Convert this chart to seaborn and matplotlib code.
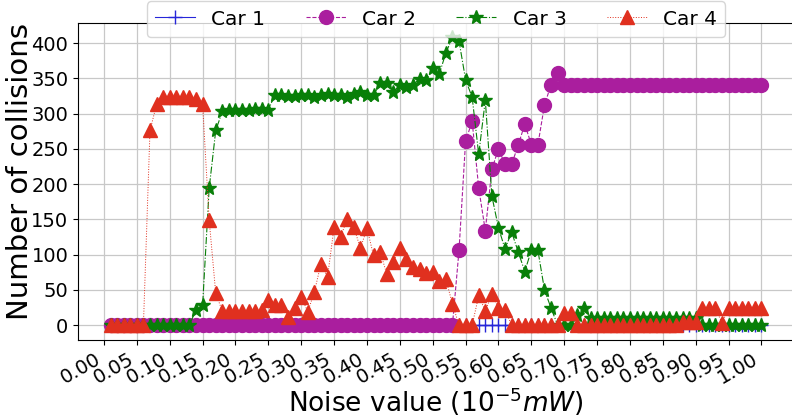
import matplotlib
matplotlib.use("Agg")
import matplotlib.pyplot as plt
import seaborn as sns
import pandas as pd

noise = [0.01, 0.02, 0.03, 0.04, 0.05, 0.06, 0.07, 0.08, 0.09, 0.10,
         0.11, 0.12, 0.13, 0.14, 0.15, 0.16, 0.17, 0.18, 0.19, 0.20,
         0.21, 0.22, 0.23, 0.24, 0.25, 0.26, 0.27, 0.28, 0.29, 0.30,
         0.31, 0.32, 0.33, 0.34, 0.35, 0.36, 0.37, 0.38, 0.39, 0.40,
         0.41, 0.42, 0.43, 0.44, 0.45, 0.46, 0.47, 0.48, 0.49, 0.50,
         0.51, 0.52, 0.53, 0.54, 0.55, 0.56, 0.57, 0.58, 0.59, 0.60,
         0.61, 0.62, 0.63, 0.64, 0.65, 0.66, 0.67, 0.68, 0.69, 0.70,
         0.71, 0.72, 0.73, 0.74, 0.75, 0.76, 0.77, 0.78, 0.79, 0.80,
         0.81, 0.82, 0.83, 0.84, 0.85, 0.86, 0.87, 0.88, 0.89, 0.90,
         0.91, 0.92, 0.93, 0.94, 0.95, 0.96, 0.97, 0.98, 0.99, 1.00]

car1 = [0, 0, 0, 0, 0, 0, 0, 0, 0, 0,
        0, 0, 0, 0, 0, 0, 0, 0, 0, 0,
        0, 0, 0, 0, 0, 0, 0, 0, 0, 0,
        0, 0, 0, 0, 0, 0, 0, 0, 0, 0,
        0, 0, 0, 0, 0, 0, 0, 0, 0, 0,
        0, 0, 0, 0, 0, 0, 0, 0, 0, 0,
        0, 0, 0, 0, 0, 0, 0, 0, 0, 0,
        0, 0, 0, 0, 0, 0, 0, 0, 0, 0,
        0, 0, 0, 0, 0, 0, 0, 0, 0, 0,
        0, 0, 0, 0, 0, 0, 0, 0, 0, 0]

car2 = [0, 0, 0, 0, 0, 0, 0, 0, 0, 0,
        0, 0, 0, 0, 0, 0, 0, 0, 0, 0,
        0, 0, 0, 0, 0, 0, 0, 0, 0, 0,
        0, 0, 0, 0, 0, 0, 0, 0, 0, 0,
        0, 0, 0, 0, 0, 0, 0, 0, 0, 0,
        0, 0, 0, 106, 261, 289, 194, 134, 221, 250,
        228, 228, 255, 285, 256, 256, 312, 341, 357, 341,
        341, 341, 341, 341, 341, 341, 341, 341, 341, 341,
        341, 341, 341, 341, 341, 341, 341, 341, 341, 341,
        341, 341, 341, 341, 341, 341, 341, 341, 341, 341]

car3 = [0, 0, 0, 0, 0, 0, 0, 0, 0, 0,
        0, 0, 0, 22, 28, 194, 276, 303, 305, 305,
        305, 305, 306, 307, 305, 327, 326, 325, 325, 326,
        327, 324, 327, 328, 327, 326, 324, 328, 330, 327,
        326, 343, 343, 331, 340, 338, 341, 349, 347, 364,
        356, 386, 408, 403, 348, 323, 242, 319, 183, 138,
        108, 132, 104, 76, 106, 106, 50, 24, 0, 0,
        0, 15, 24, 10, 10, 10, 10, 10, 10, 10,
        10, 10, 10, 10, 10, 10, 10, 10, 10, 10,
        0, 0, 0, 0, 0, 0, 0, 0, 0, 0]

car4 = [0, 0, 0, 0, 0, 0, 276, 313, 323, 323,
        323, 323, 323, 321, 313, 149, 45, 20, 20, 20,
        20, 20, 20, 21, 35, 28, 28, 12, 24, 40,
        19, 47, 87, 68, 139, 125, 151, 139, 109, 137,
        99, 104, 73, 90, 109, 94, 83, 80, 74, 75,
        63, 65, 30, 0, 0, 0, 42, 20, 44, 24,
        22, 0, 0, 0, 0, 0, 0, 0, 0, 17,
        17, 0, 0, 0, 0, 0, 0, 0, 0, 0,
        0, 0, 0, 0, 0, 0, 0, 4, 4, 4,
        24, 24, 24, 3, 24, 24, 24, 24, 24, 24]

labels = ["Car 1", "Car 2", "Car 3", "Car 4"]
xticks = [0.00, 0.05, 0.10, 0.15, 0.20, 0.25, 0.30, 0.35, 0.40, 0.45, 0.50,
          0.55, 0.60, 0.65, 0.70, 0.75, 0.80, 0.85, 0.90, 0.95, 1.00]
yticks = [0, 50, 100, 150, 200, 250, 300, 350, 400]

df = pd.DataFrame({"noise": noise, "Car 1": car1, "Car 2": car2,
                   "Car 3": car3, "Car 4": car4})

styles = {
    "Car 1": dict(color="#2626d9", marker="+", linestyle="-", lw=0.8),
    "Car 2": dict(color="#aa1e9e", marker="o", linestyle="--", lw=0.8),
    "Car 3": dict(color="#087f08", marker="*", linestyle="-.", lw=0.8),
    "Car 4": dict(color="#e0301f", marker="^", linestyle=":", lw=0.7),
}

fig = plt.figure(figsize=(7.92, 4.18), dpi=100)
ax = fig.add_axes([78 / 792, 1 - 339.5 / 418, 716 / 792, 316.5 / 418])

for name in labels:
    st = styles[name]
    sns.lineplot(data=df, x="noise", y=name, ax=ax, label=name,
                 color=st["color"], marker=st["marker"],
                 linestyle=st["linestyle"], linewidth=st["lw"],
                 markersize=10, markeredgecolor=st["color"],
                 markeredgewidth=1.0)

ax.set_xticks(xticks)
ax.set_xticklabels([f"{t:.2f}" for t in xticks], rotation=30, ha="right",
                   fontsize=14)
ax.set_yticks(yticks)
ax.set_yticklabels([str(t) for t in yticks], fontsize=14)
ax.grid(True, color="#c8c8c8", linewidth=0.9)
ax.set_axisbelow(True)

ax.set_xlabel(r"Noise value ($10^{-5}mW$)", fontsize=19)
ax.xaxis.set_label_coords(0.5, (339.5 - 386) / 316.5)
ax.set_ylabel("Number of collisions", fontsize=21)
ax.yaxis.set_label_coords((34 - 78) / 716, 0.53)

ax.legend(loc="upper center", bbox_to_anchor=(0.5, 1.068), ncol=4,
          fontsize=14.5, borderaxespad=0, framealpha=0.8)

fig.savefig("out.png", dpi=100)
